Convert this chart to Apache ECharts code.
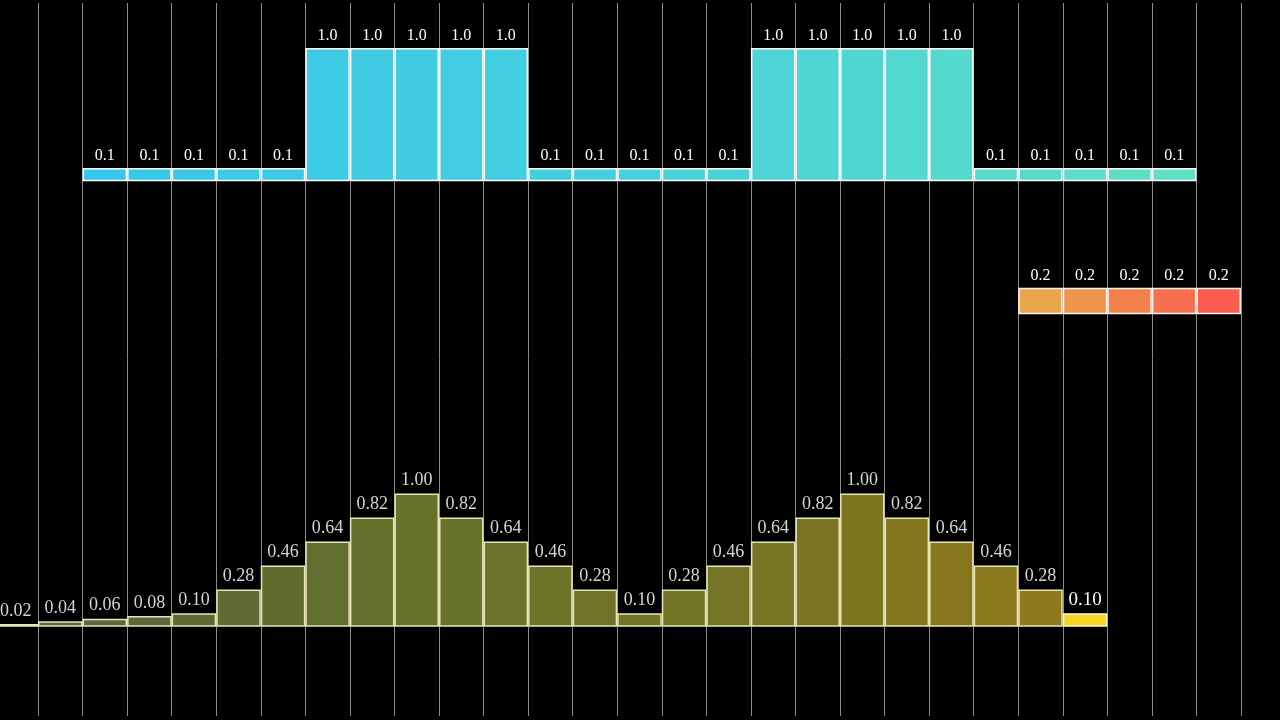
<!DOCTYPE html>
<html>
<head>
<meta charset="utf-8">
<script src="https://cdn.jsdelivr.net/npm/echarts@6/dist/echarts.min.js"></script>
<style>
html,body{margin:0;padding:0;background:#000;}
#c{width:1280px;height:720px;}
</style>
</head>
<body>
<div id="c"></div>
<script>
// 29 slots along x
const slots = Array.from({length: 29}, (_, i) => 'k' + i);
// top row (slots 2..26)
const topStart = 2;
const topValues = [0.1,0.1,0.1,0.1,0.1, 1.0,1.0,1.0,1.0,1.0, 0.1,0.1,0.1,0.1,0.1, 1.0,1.0,1.0,1.0,1.0, 0.1,0.1,0.1,0.1,0.1];
// middle row (slots 23..27)
const midStart = 23;
const midValues = [0.2,0.2,0.2,0.2,0.2];
// bottom row (slots 0..24)
const botStart = 0;
const botValues = [0.02,0.04,0.06,0.08,0.10,0.28,0.46,0.64,0.82,1.00,0.82,0.64,0.46,0.28,0.10,0.28,0.46,0.64,0.82,1.00,0.82,0.64,0.46,0.28,0.10];
const highlightIndex = 24;

function hex2rgb(h){h=h.replace('#','');return [0,2,4].map(i=>parseInt(h.substr(i,2),16));}
function lerpColor(stops, t){
  for (let i=0;i<stops.length-1;i++){
    const [p0,c0]=stops[i],[p1,c1]=stops[i+1];
    if (t<=p1 || i===stops.length-2){
      const u=Math.max(0,Math.min(1,(t-p0)/(p1-p0)));
      const a=hex2rgb(c0),b=hex2rgb(c1);
      return 'rgb('+a.map((v,j)=>Math.round(v+(b[j]-v)*u)).join(',')+')';
    }
  }
}
function buildRow(start, values, colorFn, extra){
  const arr = slots.map(()=>null);
  values.forEach((v,i)=>{
    const item = {value: v, itemStyle: {color: colorFn(i, values.length)}};
    if (extra) Object.assign(item, extra(i));
    arr[start+i] = item;
  });
  return arr;
}

const topData = buildRow(topStart, topValues, (i,n)=>lerpColor([[0,'#36c6ea'],[0.5,'#45d0dc'],[1,'#5fdfc3']], i/(n-1)));
const midData = buildRow(midStart, midValues, (i,n)=>lerpColor([[0,'#eaa64a'],[1,'#fc5c50']], i/(n-1)));
const botData = buildRow(botStart, botValues, (i,n)=>{
  if (i===highlightIndex) return '#f6d524';
  return lerpColor([[0,'#5f6249'],[0.2,'#5e6a30'],[0.4,'#66712b'],[0.6,'#727428'],[0.8,'#7b7421'],[1,'#8e7a1a']], i/(n-2));
}, (i)=> i===highlightIndex ? {label:{color:'#ffffff', fontSize:19}, itemStyle:{color:'#f6d524', borderColor:'#fff8c0'}} : {});

const W = 1241 - 38;
const band = W / 27;
const gridLeft = 38 - band;
const gridWidth = band * 29;

const serif = 'Liberation Serif';

function xAx(gi, split){
  return {
    type:'category', gridIndex: gi, data: slots, boundaryGap: true,
    axisLine:{show:false}, axisTick:{show:false}, axisLabel:{show:false},
    splitLine:{show: !!split, interval: 0, lineStyle:{color:'#8c8c8c', width:1}}
  };
}
function yAx(gi){
  return {type:'value', gridIndex: gi, min:0, max:1, show:false, splitLine:{show:false}};
}
function grid(top, height){
  return {left:gridLeft, width:gridWidth, top:top, height:height, containLabel:false, outerBoundsMode:'none'};
}

const option = {
  backgroundColor:'#000',
  animation:false,
  grid:[
    grid(3, 713),
    grid(48, 133.3),
    grid(181, 133.3),
    grid(493.4, 133.3)
  ],
  xAxis:[xAx(0,true), xAx(1), xAx(2), xAx(3)],
  yAxis:[yAx(0), yAx(1), yAx(2), yAx(3)],
  series:[
    {
      type:'bar', xAxisIndex:1, yAxisIndex:1, data: topData,
      barWidth:'100%', barCategoryGap:'0%',
      itemStyle:{borderColor:'#ffffff', borderWidth:1.5},
      label:{show:true, position:'top', distance:4, color:'#ffffff', fontFamily:serif, fontSize:16,
        formatter:p=>p.value.toFixed(1)}
    },
    {
      type:'bar', xAxisIndex:2, yAxisIndex:2, data: midData,
      barWidth:'100%', barCategoryGap:'0%',
      itemStyle:{borderColor:'#fff4ee', borderWidth:1.5},
      label:{show:true, position:'top', distance:4, color:'#ffffff', fontFamily:serif, fontSize:16,
        formatter:p=>p.value.toFixed(1)}
    },
    {
      type:'bar', xAxisIndex:3, yAxisIndex:3, data: botData,
      barWidth:'100%', barCategoryGap:'0%',
      itemStyle:{borderColor:'#e8e6b8', borderWidth:1.5},
      label:{show:true, position:'top', distance:4, color:'#d4d4d4', fontFamily:serif, fontSize:18,
        formatter:p=>p.value.toFixed(2)}
    }
  ]
};
const chart = echarts.init(document.getElementById('c'), null, {renderer:'canvas'});
chart.setOption(option);
</script>
</body>
</html>
